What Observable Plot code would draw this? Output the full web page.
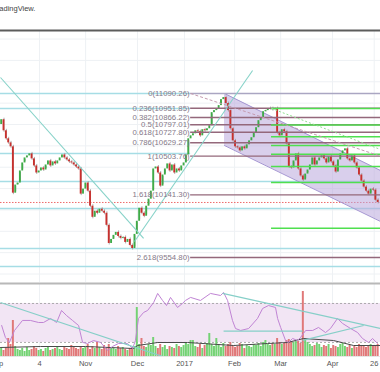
<!DOCTYPE html>
<html><head><meta charset="utf-8">
<script src="https://cdn.jsdelivr.net/npm/d3@7"></script>
<script src="https://cdn.jsdelivr.net/npm/@observablehq/plot@0.6"></script>
<style>
html,body{margin:0;padding:0;background:#fff;overflow:hidden}
#wrap{position:relative;width:380px;height:372px;overflow:hidden;font-family:"Liberation Sans",Arial,sans-serif}
.layer{position:absolute;left:0}
#credit{position:absolute;left:-7.5px;top:5px;font-size:7.5px;line-height:1;color:#444;white-space:nowrap}
</style></head><body>
<div id="wrap">
  <div id="credit">TradingView.</div>
  <div class="layer" id="main" style="top:29px"></div>
  <div class="layer" id="ind0" style="top:281px"></div>
  <div class="layer" id="ind1" style="top:281px"></div>
  <div class="layer" id="ind2" style="top:281px"></div>
</div>
<script>
// ---------- data ----------
const firstOpen = 10800;
const closes = [10845,10741,10666,10628,10591,10157,10233,10252,10365,10440,
 10487,10506,10525,10478,10412,10346,10365,10393,10374,10421,
 10459,10412,10450,10431,10459,10487,10515,10487,10468,10450,
 10440,10421,10402,10384,10148,10195,10252,10176,10035,9931,
 9988,9969,10007,9988,9969,9856,9686,9724,9762,9790,
 9752,9734,9743,9696,9724,9668,9639,9771,9894,10016,
 9969,9941,10035,10101,10176,10384,10402,10346,10223,10327,
 10384,10431,10365,10421,10346,10384,10365,10412,10440,10515,
 10666,10694,10713,10741,10732,10694,10751,10741,10760,10789,
 10911,10930,10949,10977,11033,11052,10996,10930,10760,10647,
 10591,10581,10553,10591,10572,10610,10647,10676,10723,10770,
 10836,10864,10920,10930,10949,10949,10939,10949,10723,10694,
 10751,10732,10619,10402,10393,10459,10525,10384,10318,10280,
 10336,10374,10421,10487,10421,10459,10487,10506,10478,10440,
 10497,10450,10412,10355,10468,10525,10553,10572,10478,10459,
 10506,10440,10393,10327,10270,10214,10176,10148,10195,10186,
 10091,10070];

const volumes = [8,6,9,18,12,36,10,
 7,6,8,5,9,6,7,10,8,6,7,5,8,9,6,7,8,10,7,6,9,8,7,11,9,8,7,
 10,
 8,9,12,7,10,8,14,9,7,11,8,12,9,8,7,10,8,9,7,6,8,9,10,
 49,12,18,
 10,9,12,11,
 19,
 10,8,12,9,11,7,10,9,8,12,10,9,11,14,12,16,
 16,
 10,9,12,8,11,13,
 23,12,10,18,
 11,9,13,10,12,14,11,9,10,13,12,8,11,10,9,12,11,13,10,14,16,12,11,13,12,
 18,
 14,12,13,16,17,15,14,16,15,13,
 65,
 17,14,12,10,11,13,12,9,11,10,12,8,11,10,9,12,13,10,9,11,8,10,9,12,10,11,9,10,12,11,10,12];

const volMADay = [-0.5,16.6,35.9,56.4,58.1,66.7,79.5,99.2,113.7,122.3,129.1,141.9,150.5,162];
const volMAValue = [9,10,10,8,11,14,14,11,13,14,18,16,11,11];

const rsiDay = [0,1.6,3.3,5.5,8.9,12.3,15.8,17.9,20.9,23.5,25.6,27.7,30.3,32.9,34.6,36.7,39.3,42.3,45.3,47.4,50.0,53.8,56.0,57.2,58.5,60.7,62.4,65.0,66.7,68.8,70.5,72.2,75.2,77.3,78.6,80.8,85.0,89.3,93.6,94.9,96.6,98.7,100.0,102.2,105.6,109.4,111.6,114.1,117.1,118.0,119.3,121.4,122.7,124.4,126.5,127.8,130.0,133.0,135.5,138.5,140.6,143.6,145.8,149.2,152.2,154.3,156.9,158.6,160.7];
const rsiValue = [47.4,35.1,30.0,42.3,52.6,52.6,50.5,50.5,54.6,50.5,62.8,57.7,52.6,47.4,30.0,29.0,32.0,30.0,21.8,25.9,29.0,29.0,23.8,32.0,54.6,60.8,62.8,71.0,80.3,73.1,67.9,76.2,65.9,70.0,73.1,76.2,73.1,80.3,78.2,81.3,73.1,52.6,44.3,42.3,44.3,54.6,64.9,67.9,65.9,54.6,45.4,32.0,30.0,34.1,32.0,35.1,42.3,42.3,45.4,40.2,44.3,54.6,49.5,44.3,40.2,34.1,30.0,34.1,29.0];

const tickDay = [-2.2,16.2,35.9,58.1,78.2,99.6,119.3,141.5,159.3];
const tickLabel = ["Sep","4","Nov","Dec","2017","Feb","Mar","Apr","26"];

const gridPrices = [9400,9600,9800,10000,10200,10400,10600,10800,11000,11200,11400,11600];

const fibRatio = ["0","0.236","0.382","0.5","0.618","0.786","1","1.618","2.618"];
const fibPrice = [11090.26,10951.85,10866.22,10797.01,10727.80,10629.27,10503.76,10141.30,9554.80];
const fibStartDay = 80.8;

const greenLevels = [10950,10795,10685,10603,10522,10407,10257,9829];
const greenStartDay = 115.4;

const blueLevelsFull = [10266,10013,9639,9470];
const blueLevelsLeft = [11090,10950,10528];

// drawings: anchor points (day index, price)
const trendLines = [
  {d1:-0.5, p1:11240, d2:60.7, p2:9733},
  {d1:56.8, p1:9705, d2:107.3, p2:11306}
];
const fibTrend = [{d1:80.8, p1:11090.26, d2:162, p2:10503.76}];
const greenTrend = [{d1:115.4, p1:10950, d2:162, p2:10566}];
const channelDay = [95.3, 162];
const channelTop = [11090, 10369];
const channelBottom = [10603, 9892];

// RSI-pane drawings (day index, RSI value)
const rsiLines = [
  {d1:-0.5, p1:71.0, d2:70.1, p2:14.6},
  {d1:94.5, p1:80.3, d2:162, p2:44.4},
  {d1:128.7, p1:32.1, d2:154.8, p2:47.4},
  {d1:94.9, p1:41.6, d2:128.7, p2:41.6}
];

// ---------- build ----------
const xDomain = [-0.5, 162];
const GREEN = "#3fab48", RED = "#c8302d";
const candles = closes.map((c, i) => ({i, o: i === 0 ? firstOpen : closes[i-1], c}));
const vols = candles.map(d => ({i: d.i, v: volumes[d.i] ?? 0, up: d.c >= d.o}));
const volMA = volMADay.map((d, k) => ({i: d, v: volMAValue[k]}));
const rsi = rsiDay.map((d, k) => ({i: d, r: rsiValue[k]}));
const ticks = tickDay.map((d, k) => ({i: d, label: tickLabel[k]}));
const fibs = fibPrice.map((p, k) => ({p, r: fibRatio[k], label: `${fibRatio[k]}(${p.toFixed(2)})`}));
const channel = channelDay.map((d, k) => ({i: d, hi: channelTop[k], lo: channelBottom[k]}));
const lastClose = closes[closes.length - 1];

const common = {width: 380, marginLeft: 0, marginRight: 0,
  x: {domain: xDomain, axis: null}, color: {type: "identity"},
  style: {background: "transparent", fontFamily: "Liberation Sans, Arial, sans-serif"}};

const main = Plot.plot({
  ...common, height: 254, marginTop: 1, marginBottom: 1,
  y: {domain: [9320.7, 11680.1], axis: null},
  marks: [
    Plot.ruleY(gridPrices, {stroke: "#eef1f4"}),
    Plot.ruleX(tickDay.slice(1), {stroke: "#eef1f4"}),
    Plot.ruleY(blueLevelsFull, {stroke: "#a6dde5", strokeWidth: 1.4}),
    Plot.ruleY(blueLevelsLeft, {x1: () => xDomain[0], x2: () => fibStartDay, stroke: "#a6dde5", strokeWidth: 1.4}),
    Plot.ruleY([lastClose], {stroke: "#ee6b6b", strokeDasharray: "1.5,1.5"}),
    Plot.areaY(channel, {x: "i", y1: "lo", y2: "hi", fill: "#b9a8dc", fillOpacity: 0.55}),
    Plot.line(channel, {x: "i", y: "hi", stroke: "#a596d2", strokeWidth: 1}),
    Plot.line(channel, {x: "i", y: "lo", stroke: "#a596d2", strokeWidth: 1}),
    Plot.ruleX(candles, {x: "i", y1: "o", y2: "c", stroke: "#9a9a9a", strokeWidth: 0.8, insetTop: -1.5, insetBottom: -1.5}),
    Plot.rect(candles, {x1: d => d.i - 0.4, x2: d => d.i + 0.4, y1: "o", y2: "c", fill: d => d.c >= d.o ? GREEN : RED}),
    Plot.ruleY(fibs, {y: "p", x1: () => fibStartDay, x2: () => xDomain[1], stroke: d => d.r === "0" ? "#aaa6c2" : "#94687b", strokeWidth: 1.4}),
    Plot.ruleY(greenLevels, {x1: () => greenStartDay, x2: () => xDomain[1], stroke: "#4fdf4f", strokeWidth: 1.6}),
    Plot.link(trendLines, {x1: "d1", y1: "p1", x2: "d2", y2: "p2", stroke: "#86d2c8", strokeWidth: 1.1, clip: true}),
    Plot.link(fibTrend, {x1: "d1", y1: "p1", x2: "d2", y2: "p2", stroke: "#c49aae", strokeWidth: 1, strokeDasharray: "3,2"}),
    Plot.link(greenTrend, {x1: "d1", y1: "p1", x2: "d2", y2: "p2", stroke: "#8fe08f", strokeWidth: 1, strokeDasharray: "2,2"}),
    Plot.text(fibs, {x: () => fibStartDay, y: "p", text: "label", textAnchor: "end", dx: -1, fill: "#857888", fontSize: 7.8}),
    Plot.frame({anchor: "top", stroke: "#5c5c5c", strokeWidth: 2})
  ]
});
document.getElementById("main").append(main);

const indCommon = {...common, height: 91, marginTop: 2, marginBottom: 16};

const ind0 = Plot.plot({
  ...indCommon,
  y: {domain: [15.6, 90.5], axis: null},
  marks: [
    Plot.ruleX(tickDay.slice(1), {stroke: "#eef1f4"}),
    Plot.rect([{lo: 30, hi: 70}], {x1: () => xDomain[0], x2: () => xDomain[1], y1: "lo", y2: "hi", fill: "#f2e5f4"}),
    Plot.ruleY([30, 70], {stroke: "#9a9a9a", strokeWidth: 0.8, strokeDasharray: "2,2"}),
    Plot.frame({anchor: "top", stroke: "#b8b8b8", strokeWidth: 2}),
    Plot.frame({anchor: "bottom", stroke: "#e6e6e6", strokeWidth: 1}),
    Plot.text(ticks, {x: "i", text: "label", frameAnchor: "bottom", dy: 9, fill: "#555", fontSize: 7.5})
  ]
});
document.getElementById("ind0").append(ind0);

const ind1 = Plot.plot({
  ...indCommon,
  y: {domain: [0, 73], axis: null},
  marks: [
    Plot.rect(vols, {x1: d => d.i - 0.42, x2: d => d.i + 0.42, y1: () => 0, y2: "v", fill: d => d.up ? "#74d274" : "#e07878"}),
    Plot.line(volMA, {x: "i", y: "v", stroke: "#4a4a4a", strokeWidth: 1})
  ]
});
document.getElementById("ind1").append(ind1);

const ind2 = Plot.plot({
  ...indCommon,
  y: {domain: [15.6, 90.5], axis: null},
  marks: [
    Plot.line(rsi, {x: "i", y: "r", stroke: "#c084d4", strokeWidth: 1}),
    Plot.link(rsiLines, {x1: "d1", y1: "p1", x2: "d2", y2: "p2", stroke: "#86cfc8", strokeWidth: 1.2, clip: true})
  ]
});
document.getElementById("ind2").append(ind2);
</script>
</body></html>
